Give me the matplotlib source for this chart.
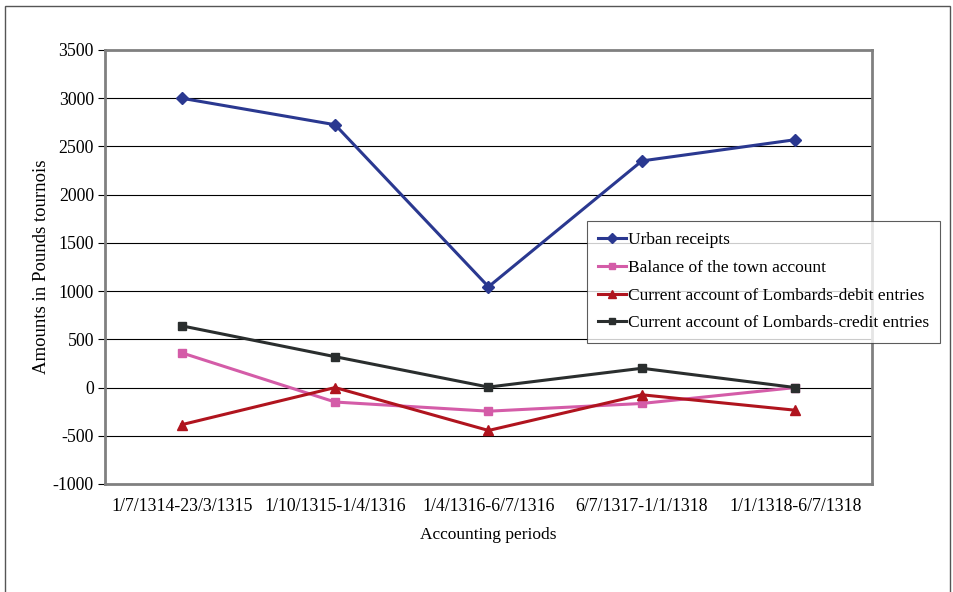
import matplotlib.pyplot as plt
from matplotlib.patches import Rectangle

plt.rcParams['font.family'] = ['Liberation Serif', 'DejaVu Serif']
plt.rcParams['axes.unicode_minus'] = False

periods = ["1/7/1314-23/3/1315", "1/10/1315-1/4/1316", "1/4/1316-6/7/1316",
           "6/7/1317-1/1/1318", "1/1/1318-6/7/1318"]
urban = [3000, 2725, 1045, 2350, 2570]
balance = [360, -150, -245, -165, 0]
debit = [-385, 0, -445, -75, -235]
credit = [640, 320, 5, 200, 0]

series = [
    ("Urban receipts", urban, "#2a3890", "D", 6),
    ("Balance of the town account", balance, "#d45ca8", "s", 6),
    ("Current account of Lombards-debit entries", debit, "#b0141e", "^", 7),
    ("Current account of Lombards-credit entries", credit, "#2a2e2e", "s", 6),
]

fig = plt.figure(figsize=(9.54, 5.92), dpi=100)
ax = fig.add_axes([105 / 954, 1 - 484 / 592, 767 / 954, 434 / 592])

# outer frame
fig.patches.append(Rectangle((5 / 954, -0.05), 945 / 954, 1 - 6 / 592 + 0.05,
                             transform=fig.transFigure, fill=False,
                             edgecolor="#555555", linewidth=1.0))

x = range(len(periods))
for label, vals, col, mk, ms in series:
    ax.plot(x, vals, color=col, marker=mk, markersize=ms, linewidth=2.2,
            label=label, zorder=3)

ax.set_xlim(-0.5, len(periods) - 0.5)
ax.set_ylim(-1000, 3500)
ax.set_yticks(range(-1000, 3501, 500))
ax.set_xticks(list(x))
ax.set_xticklabels(periods)
for yv in range(-500, 3001, 500):
    ax.axhline(yv, color="black", linewidth=0.8, zorder=1)

for sp in ax.spines.values():
    sp.set_color("#808080")
    sp.set_linewidth(2.0)
ax.tick_params(axis="y", direction="out", length=5, width=0.8, color="black",
               labelsize=12.8, pad=3)
ax.tick_params(axis="x", length=0, labelsize=12.8, pad=10)

ax.set_xlabel("Accounting periods", fontsize=12.5, labelpad=9)
ax.set_ylabel("Amounts in Pounds tournois", fontsize=13.5, labelpad=2)

leg = ax.legend(loc="upper left", bbox_to_anchor=(482 / 767, (484 - 221) / 434),
                fontsize=12.5, frameon=True, fancybox=False, handlelength=1.6,
                handletextpad=0.1, borderpad=0.65, labelspacing=0.66,
                borderaxespad=0, markerscale=0.8)
leg.get_frame().set_edgecolor("#333333")
leg.get_frame().set_linewidth(0.8)
leg.set_zorder(5)

fig.savefig("out.png", dpi=100)
